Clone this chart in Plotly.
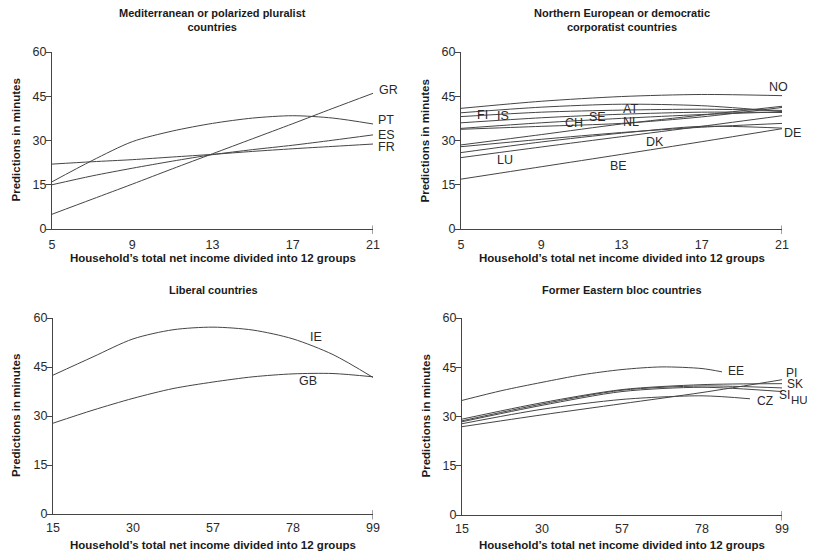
import plotly.graph_objects as go

# the page body adds an 8px margin; the figure is sized so it fills the rest of the window
OFF = 8
W, H = 815 - OFF, 555 - OFF

# ---------------- data ----------------
# Mediterranean (x = income group value)
med_x = [5, 7, 9, 11, 13, 15, 17, 19, 21]
med = {
    "GR": [5.0, 10.1, 15.2, 20.4, 25.5, 30.6, 35.7, 40.9, 46.0],
    "PT": [16.0, 23.2, 29.6, 33.2, 35.8, 37.6, 38.4, 37.6, 35.6],
    "ES": [15.0, 18.0, 20.6, 23.0, 25.2, 26.9, 28.4, 30.1, 31.9],
    "FR": [22.0, 22.8, 23.5, 24.4, 25.3, 26.3, 27.2, 28.0, 28.8],
}
# label: (x, y, extra pixel shift to the right, font size)
med_labels = {"GR": (21, 47.1, 4, 12.5), "PT": (21, 36.9, 3, 12.5),
              "ES": (21, 31.9, 3, 12.5), "FR": (21, 27.9, 3, 12.5)}

# Northern European
nor_x = [5, 9, 13, 17, 21]
nor = {
    "NO": [40.9, 43.3, 44.9, 45.6, 45.2],
    "FI": [39.4, 41.3, 42.3, 41.8, 39.8],
    "AT": [38.1, 39.6, 40.3, 40.6, 40.2],
    "IS": [36.0, 37.7, 38.9, 39.6, 39.5],
    "SE": [34.1, 36.0, 37.5, 38.8, 39.7],
    "CH": [33.8, 34.8, 35.8, 38.0, 41.2],
    "NL": [28.5, 32.0, 35.6, 38.6, 41.6],
    "DK": [27.9, 30.4, 32.7, 34.5, 35.8],
    "DE": [25.9, 29.5, 32.5, 34.8, 34.2],
    "LU": [24.2, 27.8, 31.3, 34.8, 38.4],
    "BE": [16.9, 21.1, 25.3, 29.6, 34.0],
}
nor_labels = {
    "NO": (20.24, 48.0, 0, 12.5), "FI": (5.7, 38.6, 0, 12.5), "IS": (6.7, 38.3, 0, 12.5),
    "CH": (10.1, 35.8, 0, 12.5), "SE": (11.27, 37.8, 0, 12.5), "AT": (12.98, 40.6, 0, 12.5),
    "NL": (12.98, 36.4, 0, 12.5), "DK": (14.14, 29.6, 0, 12.5), "LU": (6.7, 23.4, 0, 12.5),
    "BE": (12.35, 21.2, 0, 12.5), "DE": (21, 32.6, 0, 12.5),
}

# x ticks for the two lower panels (equally spaced categories)
cat_ticks = ["15", "30", "57", "78", "99"]
cat_pos = [0, 1, 2, 3, 4]

# Liberal
lib_x = [0, 0.5, 1, 1.5, 2, 2.5, 3, 3.5, 4]
lib = {
    "IE": [42.5, 48.1, 53.6, 56.4, 57.2, 56.3, 53.6, 48.8, 41.8],
    "GB": [27.8, 31.8, 35.4, 38.4, 40.4, 42.0, 42.9, 43.0, 42.0],
}
lib_labels = {"IE": (3.19, 54.2, 0, 12.5), "GB": (3.05, 40.7, 0, 12.5)}

# Former Eastern bloc
east = {
    "EE": ([0, 0.5, 1, 1.5, 2, 2.5, 3, 3.25], [34.9, 37.9, 40.4, 42.7, 44.3, 45.1, 44.6, 43.6]),
    "PI": ([0, 1, 2, 3, 4], [26.9, 30.5, 33.9, 37.3, 41.2]),
    "SK": ([0, 1, 2, 3, 4], [29.2, 34.2, 38.2, 39.7, 40.0]),
    "SI": ([0, 1, 2, 3, 4], [28.7, 33.8, 38.0, 39.3, 38.7]),
    "HU": ([0, 1, 2, 3, 4], [28.4, 33.4, 37.6, 38.9, 37.6]),
    "CZ": ([0, 1, 2, 3, 3.6], [27.8, 32.2, 35.2, 36.3, 35.4]),
}
east_labels = {"EE": (3.3, 43.8, 0, 12), "PI": (4, 43.2, 2, 12), "SK": (4, 40.0, 3, 12),
               "SI": (4, 36.7, -5, 12), "HU": (4, 35.1, 7, 11.5), "CZ": (3.66, 34.7, 0, 12)}

y_ticks = [0, 15, 30, 45, 60]
titles = ["Mediterranean or polarized pluralist<br>countries",
          "Northern European or democratic<br>corporatist countries",
          "Liberal countries", "Former Eastern bloc countries"]
x_title = "Household’s total net income divided into 12 groups"
y_title = "Predictions in minutes"

# ---------------- layout geometry (window pixels) ----------------
panels = [  # x0, x1, ytop, ybottom, x-title centre
    (52, 373, 52, 229, 258),
    (461, 782, 52, 229, 258),
    (53, 373, 318, 514, 545),
    (462, 782, 318, 515, 545),
]


def px(v):
    return (v - OFF) / W


def py(v):
    return 1 - (v - OFF) / H


FONT = "Liberation Sans, Arial, Helvetica, sans-serif"
LINE = "#454545"
TXT = "#2a2a2a"

fig = go.Figure()


def refs(idx):
    return ("x" if idx == 1 else f"x{idx}"), ("y" if idx == 1 else f"y{idx}")


def add_lines(data, xvals, idx, per_series_x=False):
    xa, ya = refs(idx)
    for name, vals in data.items():
        xs, ys = vals if per_series_x else (xvals, vals)
        fig.add_trace(go.Scatter(x=xs, y=ys, mode="lines", name=name, xaxis=xa, yaxis=ya,
                                 line=dict(color=LINE, width=1, shape="spline", smoothing=0.8),
                                 showlegend=False))


def add_labels(labels, idx):
    xa, ya = refs(idx)
    for name, (lx, ly, sh, size) in labels.items():
        fig.add_annotation(x=lx, y=ly, xref=xa, yref=ya, text=name, showarrow=False,
                           xanchor="left", yanchor="middle", xshift=sh,
                           font=dict(family=FONT, size=size, color=TXT))


add_lines(med, med_x, 1)
add_lines(nor, nor_x, 2)
add_lines(lib, lib_x, 3)
add_lines(east, None, 4, per_series_x=True)
add_labels(med_labels, 1)
add_labels(nor_labels, 2)
add_labels(lib_labels, 3)
add_labels(east_labels, 4)

layout = dict(template="none", width=W, height=H, margin=dict(l=0, r=0, t=0, b=0, pad=0),
              paper_bgcolor="white", plot_bgcolor="white", showlegend=False,
              font=dict(family=FONT, color=TXT))

for i, (x0, x1, yt, yb, xt) in enumerate(panels, start=1):
    sfx = "" if i == 1 else str(i)
    top = i <= 2
    xax = dict(domain=[px(x0), px(x1)], anchor=f"y{sfx}", showgrid=False, zeroline=False,
               showline=True, linecolor=LINE, linewidth=1, ticks="", automargin=False,
               ticklabelstandoff=4 if top else 2,
               tickfont=dict(family=FONT, size=12.5, color=TXT), fixedrange=True)
    if top:
        xax.update(range=[5, 21], tickvals=[5, 9, 13, 17, 21])
    else:
        xax.update(range=[0, 4], tickvals=cat_pos, ticktext=cat_ticks)
    yax = dict(domain=[py(yb), py(yt)], anchor=f"x{sfx}", range=[0, 60],
               tickvals=y_ticks, showgrid=False, zeroline=False, showline=True,
               linecolor=LINE, linewidth=1, ticks="outside", ticklen=5, tickcolor=LINE,
               automargin=False, ticklabelstandoff=-3,
               tickfont=dict(family=FONT, size=12.5, color=TXT), fixedrange=True)
    layout[f"xaxis{sfx}"] = xax
    layout[f"yaxis{sfx}"] = yax

fig.update_layout(**layout)

for i, (x0, x1, yt, yb, xt) in enumerate(panels, start=1):
    sfx = "" if i == 1 else str(i)
    xend = 21 if i <= 2 else 4
    fig.add_shape(type="line", xref=f"x{sfx}", yref=f"y{sfx} domain", x0=xend, x1=xend,
                  y0=-0.028, y1=0.02, line=dict(color=LINE, width=1))
    cx = px((x0 + x1) / 2)
    ty = 20 if i <= 2 else 290
    fig.add_annotation(x=cx, y=py(ty), xref="paper", yref="paper", text=f"<b>{titles[i-1]}</b>",
                       showarrow=False, xanchor="center", yanchor="middle",
                       font=dict(family=FONT, size=11, color="#1a1a1a"))
    fig.add_annotation(x=cx, y=py(xt), xref="paper", yref="paper", text=f"<b>{x_title}</b>",
                       showarrow=False, xanchor="center", yanchor="middle",
                       font=dict(family=FONT, size=11.5, color="#1a1a1a"))
    fig.add_annotation(x=px(x0 - 37), y=py((yt + yb) / 2), xref="paper", yref="paper",
                       text=f"<b>{y_title}</b>", textangle=-90, showarrow=False,
                       xanchor="center", yanchor="middle",
                       font=dict(family=FONT, size=11.5, color="#1a1a1a"))

fig.write_html("out.html")
